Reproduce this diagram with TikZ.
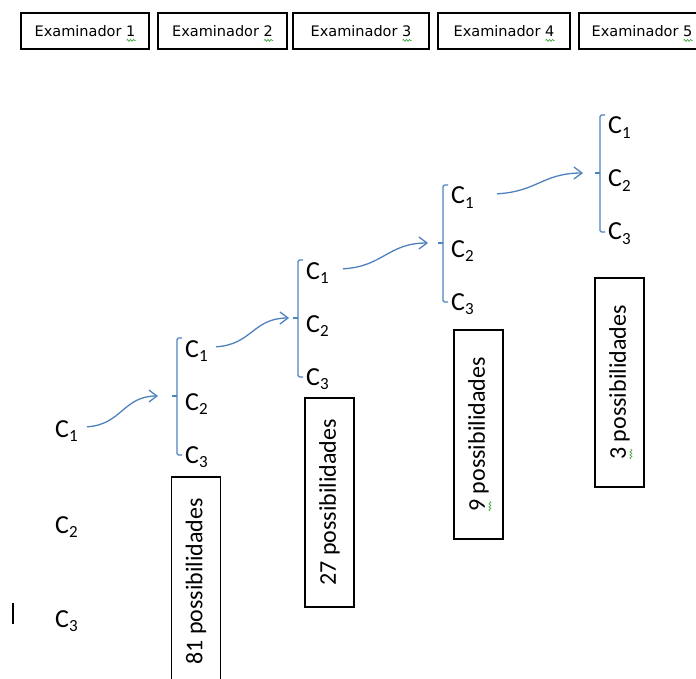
\documentclass[tikz,border=0pt]{standalone}
\usepackage{fontspec}
\setmainfont{Carlito}
\newfontfamily\hdrfont{DejaVu Sans}
\usetikzlibrary{arrows.meta,decorations.pathmorphing}
\definecolor{linkblue}{RGB}{79,129,189}
\definecolor{squiggreen}{RGB}{70,170,70}
% C with a lowered subscript digit
\newcommand\Csub[1]{C\raisebox{-4.5pt}{\fontsize{17}{18}\selectfont #1}}

\begin{document}
\begin{tikzpicture}[x=1pt,y=-1pt,
  hdrbox/.style={draw=black, line width=1.1pt, minimum height=36pt, inner sep=0pt},
  hdrtext/.style={font=\hdrfont\fontsize{14.5}{16}\selectfont, inner sep=0pt},
  cname/.style={font=\fontsize{26}{30}\selectfont, inner sep=0pt, anchor=base west},
  countbox/.style={draw=black, line width=1.1pt, rotate=90, minimum width=209pt, minimum height=49pt, inner sep=0pt},
  counttext/.style={rotate=90, inner sep=0pt, font=\fontsize{24}{28}\selectfont},
  brace/.style={draw=linkblue, line width=1.3pt, rounded corners=1.5pt},
  link/.style={draw=linkblue, line width=1.3pt, -{Straight Barb[length=8pt,width=12pt]}},
  squig/.style={draw=squiggreen, line width=0.7pt, decorate, decoration={snake, amplitude=1pt, segment length=3pt}}
]
\useasboundingbox (0,0) rectangle (696,679);
\clip (0,0) rectangle (696,679);

% header row
\foreach \i/\cx/\w in {1/85/128, 2/222.5/129, 3/361/136, 4/504/132, 5/642/126} {
  \node[hdrbox, minimum width=\w pt] (hb\i) at (\cx,31) {};
  \node[hdrtext] (ht\i) at (\cx,31) {Examinador \i};
  \draw[squig] ([shift={(-9,4)}]ht\i.base east) -- ([shift={(0,4)}]ht\i.base east);
}

% first column
\node[cname] (c0-1) at (55,437) {\Csub1};
\node[cname] (c0-2) at (55,533) {\Csub2};
\node[cname] (c0-3) at (55,627) {\Csub3};

% bracketed columns
\foreach \k/\bx/\by in {1/177/338, 2/298/260, 3/443/185, 4/600/115} {
  \draw[brace] (\bx+5,\by) -- (\bx,\by) -- (\bx,\by+117) -- (\bx+5,\by+117);
  \draw[brace] (\bx,\by+58) -- (\bx-5,\by+58);
  \coordinate (k\k) at (\bx-5,\by+58);
  \node[cname] (c\k-1) at (\bx+8,\by+19) {\Csub1};
  \node[cname] (c\k-2) at (\bx+8,\by+72) {\Csub2};
  \node[cname] (c\k-3) at (\bx+8,\by+125) {\Csub3};
}

% curved links
\draw[link] ([shift={(9,-4)}]c0-1.east) .. controls +(35,-2) and +(-35,0) .. ([xshift=-14]k1);
\draw[link] ([shift={(8,-4)}]c1-1.east) .. controls +(36,-2) and +(-36,0) .. ([xshift=-4]k2);
\draw[link] ([shift={(14,-4)}]c2-1.east) .. controls +(40,-2) and +(-40,0) .. ([xshift=-10]k3);
\draw[link] ([shift={(23,-4)}]c3-1.east) .. controls +(40,-2) and +(-40,0) .. ([xshift=-12]k4);

% counts
\node[countbox] (b81) at (196,581.5) {};
\node[counttext] (t81) at (196,581.5) {81 possibilidades};
\node[countbox] (b27) at (329.5,502.5) {};
\node[counttext] (t27) at (329.5,502.5) {27 possibilidades};
\node[countbox] (b9) at (478.5,434.5) {};
\node[counttext] (t9) at (478.5,434.5) {9 possibilidades};
\node[countbox] (b3) at (619.5,382.5) {};
\node[counttext] (t3) at (619.5,382.5) {3 possibilidades};
\draw[squig] ([shift={(5,-1)}]t9.base west) -- ([shift={(5,-11)}]t9.base west);
\draw[squig] ([shift={(5,-1)}]t3.base west) -- ([shift={(5,-11)}]t3.base west);

% text cursor
\draw[line width=1.3pt] (13,603) -- (13,624);
\end{tikzpicture}
\end{document}
